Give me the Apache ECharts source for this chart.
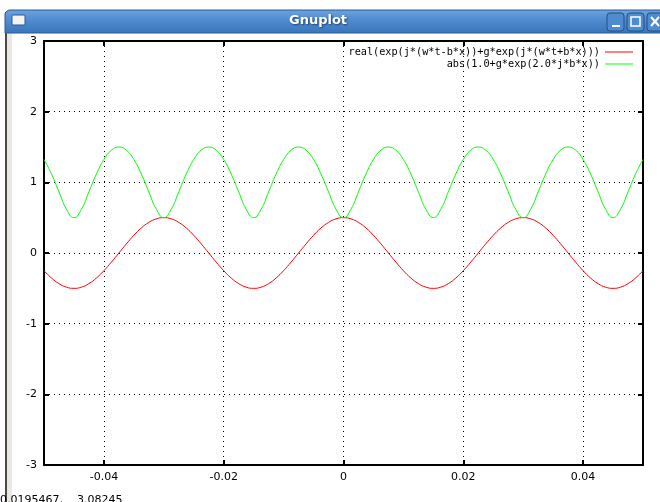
<!DOCTYPE html>
<html><head><meta charset="utf-8">
<script src="https://cdn.jsdelivr.net/npm/echarts@6/dist/echarts.min.js"></script>
<style>html,body{margin:0;padding:0;background:#fff}#c{width:660px;height:502px}</style>
</head><body><div id="c"></div>
<script>
const xValues = [-0.05,-0.04875,-0.0475,-0.04625,-0.045,-0.04375,-0.0425,-0.04125,-0.04,-0.03875,-0.0375,-0.03625,-0.035,-0.03375,-0.0325,-0.03125,-0.03,-0.02875,-0.0275,-0.02625,-0.025,-0.02375,-0.0225,-0.02125,-0.02,-0.01875,-0.0175,-0.01625,-0.015,-0.01375,-0.0125,-0.01125,-0.01,-0.00875,-0.0075,-0.00625,-0.005,-0.00375,-0.0025,-0.00125,0,0.00125,0.0025,0.00375,0.005,0.00625,0.0075,0.00875,0.01,0.01125,0.0125,0.01375,0.015,0.01625,0.0175,0.01875,0.02,0.02125,0.0225,0.02375,0.025,0.02625,0.0275,0.02875,0.03,0.03125,0.0325,0.03375,0.035,0.03625,0.0375,0.03875,0.04,0.04125,0.0425,0.04375,0.045,0.04625,0.0475,0.04875,0.05];
const redValues = [-0.25,-0.354,-0.433,-0.483,-0.5,-0.483,-0.433,-0.354,-0.25,-0.129,0,0.129,0.25,0.354,0.433,0.483,0.5,0.483,0.433,0.354,0.25,0.129,0,-0.129,
-0.25,-0.354,-0.433,-0.483,-0.5,-0.483,-0.433,-0.354,-0.25,-0.129,0,0.129,0.25,0.354,0.433,0.483,0.5,0.483,0.433,0.354,0.25,0.129,0,-0.129,
-0.25,-0.354,-0.433,-0.483,-0.5,-0.483,-0.433,-0.354,-0.25,-0.129,0,0.129,0.25,0.354,0.433,0.483,0.5,0.483,0.433,0.354,0.25,0.129,0,-0.129,
-0.25,-0.354,-0.433,-0.483,-0.5,-0.483,-0.433,-0.354,-0.25];
const greenValues = [1.323,1.118,0.866,0.62,0.5,0.62,0.866,1.118,1.323,1.455,1.5,1.455,
1.323,1.118,0.866,0.62,0.5,0.62,0.866,1.118,1.323,1.455,1.5,1.455,
1.323,1.118,0.866,0.62,0.5,0.62,0.866,1.118,1.323,1.455,1.5,1.455,
1.323,1.118,0.866,0.62,0.5,0.62,0.866,1.118,1.323,1.455,1.5,1.455,
1.323,1.118,0.866,0.62,0.5,0.62,0.866,1.118,1.323,1.455,1.5,1.455,
1.323,1.118,0.866,0.62,0.5,0.62,0.866,1.118,1.323,1.455,1.5,1.455,
1.323,1.118,0.866,0.62,0.5,0.62,0.866,1.118,1.323];
const xTicks = [-0.04,-0.02,0,0.02,0.04];
const seriesNames = ['real(exp(j*(w*t-b*x))+g*exp(j*(w*t+b*x)))','abs(1.0+g*exp(2.0*j*b*x))'];
const windowTitle = 'Gnuplot';
const statusText = '0.0195467,    3.08245';

const MONO = 'DejaVu Sans Mono';
const SANS = 'DejaVu Sans';
const chart = echarts.init(document.getElementById('c'), null, {renderer:'canvas'});
const dotted = {show:true, lineStyle:{color:'#000', width:1, type:[1,4]}};
const baseX = {type:'value', min:-0.05, max:0.05,
  axisLine:{show:true, onZero:false, lineStyle:{color:'#000', width:2}}};
const baseY = {type:'value', min:-3, max:3, interval:1,
  axisLine:{show:true, onZero:false, lineStyle:{color:'#000', width:2}}};
chart.setOption({
  animation:false,
  backgroundColor:'#fff',
  grid:{left:44, right:17, top:41, bottom:37, containLabel:false},
  xAxis:[
    Object.assign({}, baseX, {position:'bottom',
      axisTick:{show:true, inside:true, length:5, customValues:xTicks, lineStyle:{color:'#000', width:2}},
      axisLabel:{show:true, customValues:xTicks, margin:7, color:'#000', fontFamily:SANS, fontSize:11,
        formatter:v => v === 0 ? '0' : v.toFixed(2)},
      splitLine:dotted}),
    Object.assign({}, baseX, {position:'top',
      axisTick:{show:true, inside:true, length:5, customValues:xTicks, lineStyle:{color:'#000', width:2}},
      axisLabel:{show:false}, splitLine:{show:false}})
  ],
  yAxis:[
    Object.assign({}, baseY, {position:'left',
      axisTick:{show:true, inside:true, length:5, lineStyle:{color:'#000', width:2}},
      axisLabel:{show:true, margin:7, color:'#000', fontFamily:SANS, fontSize:11},
      splitLine:dotted}),
    Object.assign({}, baseY, {position:'right',
      axisTick:{show:true, inside:true, length:5, lineStyle:{color:'#000', width:2}},
      axisLabel:{show:false}, splitLine:{show:false}})
  ],
  legend:{
    orient:'vertical', align:'right', right:27, top:47, padding:0,
    icon:'rect', itemWidth:28, itemHeight:1, itemGap:2,
    textStyle:{fontFamily:MONO, fontSize:10.2, color:'#000'},
    data:seriesNames
  },
  series:[
    {name:seriesNames[0], type:'line', xAxisIndex:0, yAxisIndex:0, symbol:'none', smooth:true,
      lineStyle:{color:'#ff0000', width:1}, itemStyle:{color:'#ff0000'},
      data:xValues.map((x,i)=>[x, redValues[i]])},
    {name:seriesNames[1], type:'line', xAxisIndex:0, yAxisIndex:0, symbol:'none', smooth:true,
      lineStyle:{color:'#00ff00', width:1}, itemStyle:{color:'#00ff00'},
      data:xValues.map((x,i)=>[x, greenValues[i]])}
  ],
  graphic:[
    {type:'rect', shape:{x:5, y:10, width:660, height:23, r:[5,0,0,0]}, z:100,
      style:{fill:new echarts.graphic.LinearGradient(0,0,0,1,[{offset:0,color:'#6ea3e0'},{offset:0.45,color:'#4e8bd0'},{offset:1,color:'#3b74b8'}]), stroke:'#2c5a92', lineWidth:1}},
    {type:'text', x:318, y:21, z:101, style:{text:windowTitle, fill:'#fff', font:'bold 13px "DejaVu Sans"', align:'center', verticalAlign:'middle', textShadowColor:'#1d3f6b', textShadowBlur:2, textShadowOffsetX:1, textShadowOffsetY:1}},
    {type:'rect', shape:{x:12, y:15, width:13, height:10, r:1}, z:101, style:{fill:'#f4f4f4', stroke:'#2c5a92', lineWidth:1}},
    {type:'rect', shape:{x:607, y:13, width:17, height:18, r:3}, z:101, style:{fill:'#4f8bd0', stroke:'#244f85', lineWidth:1}},
    {type:'rect', shape:{x:612, y:25, width:8, height:2}, z:102, style:{fill:'#fff'}},
    {type:'rect', shape:{x:627, y:13, width:17, height:18, r:3}, z:101, style:{fill:'#4f8bd0', stroke:'#244f85', lineWidth:1}},
    {type:'rect', shape:{x:631, y:17, width:9, height:9}, z:102, style:{fill:'none', stroke:'#fff', lineWidth:1.5}},
    {type:'rect', shape:{x:647, y:13, width:17, height:18, r:3}, z:101, style:{fill:'#4f8bd0', stroke:'#244f85', lineWidth:1}},
    {type:'polyline', shape:{points:[[651,17],[659,26]]}, z:102, style:{stroke:'#fff', lineWidth:2}},
    {type:'polyline', shape:{points:[[659,17],[651,26]]}, z:102, style:{stroke:'#fff', lineWidth:2}},
    {type:'rect', shape:{x:5, y:12, width:2, height:490}, z:99, style:{fill:'#4a4a4a'}},
    {type:'rect', shape:{x:7, y:33, width:5, height:469}, z:99, style:{fill:'#ebe8e2'}},
    {type:'text', x:0, y:495, z:101, style:{text:statusText, fill:'#000', font:'11px "DejaVu Sans"', align:'left', verticalAlign:'top'}}
  ]
});
</script></body></html>
